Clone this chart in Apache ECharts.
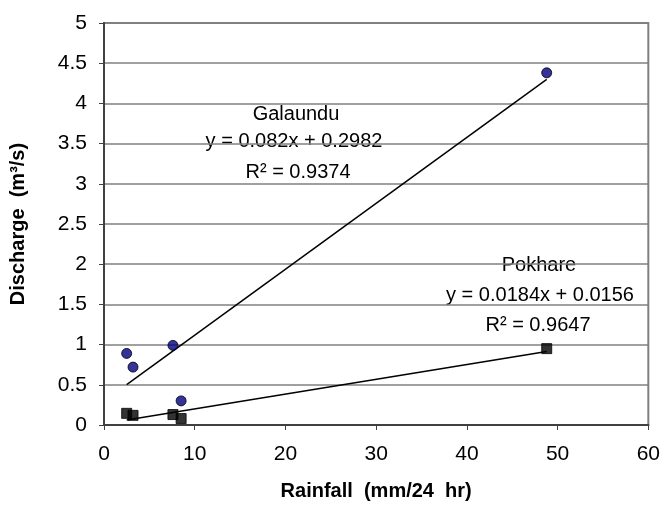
<!DOCTYPE html>
<html><head><meta charset="utf-8">
<script src="https://cdn.jsdelivr.net/npm/echarts@6/dist/echarts.min.js"></script>
<style>html,body{margin:0;padding:0;background:#fff;}#c{width:663px;height:506px;}</style>
</head><body><div id="c"></div>
<script>
var rainfall = [2.5, 3.2, 7.6, 8.5, 48.8];
var galaunduQ = [0.89, 0.72, 0.99, 0.30, 4.38];
var pokhareQ = [0.145, 0.12, 0.13, 0.08, 0.95];
var galaunduFit = [0.082, 0.2982];   // slope, intercept
var pokhareFit = [0.0184, 0.0156];
var galaunduText = ['Galaundu', 'y = 0.082x + 0.2982', 'R\u00b2 = 0.9374'];
var pokhareText = ['Pokhare', 'y = 0.0184x + 0.0156', 'R\u00b2 = 0.9647'];
var xTitle = 'Rainfall  (mm/24  hr)';
var yTitle = 'Discharge  (m\u00b3/s)';

function pts(xs, ys){ return xs.map(function(x,i){return [x, ys[i]];}); }
function fit(xs, f){
  var lo = Math.min.apply(null, xs), hi = Math.max.apply(null, xs);
  return [[lo, f[0]*lo + f[1]], [hi, f[0]*hi + f[1]]];
}
var FONT = '"Liberation Sans", Arial, sans-serif';
var chart = echarts.init(document.getElementById('c'), null, {renderer:'canvas'});
var g = [];
galaunduText.forEach(function(t,i){ g.push({type:'text', x:[296,294,298][i], y:[114,141,172][i], style:{text:t, align:'center', verticalAlign:'middle', font:'20px '+FONT, fill:'#000'}}); });
pokhareText.forEach(function(t,i){ g.push({type:'text', x:[539,540,538][i], y:[265,295,325][i], style:{text:t, align:'center', verticalAlign:'middle', font:'20px '+FONT, fill:'#000'}}); });

chart.setOption({
  animation:false,
  backgroundColor:'#fff',
  grid:{left:103.5, right:13, top:23, bottom:80, show:true, borderColor:'#808080', borderWidth:2, backgroundColor:'transparent'},
  xAxis:{type:'value', min:0, max:60, interval:10,
    name:xTitle, nameLocation:'middle', nameGap:56,
    nameTextStyle:{fontFamily:FONT, fontSize:20, fontWeight:'bold', color:'#000'},
    axisLine:{show:true, onZero:false, lineStyle:{color:'#404040', width:2}},
    axisTick:{show:true, inside:false, length:5, lineStyle:{color:'#404040', width:1}},
    axisLabel:{fontFamily:FONT, fontSize:21, color:'#000', margin:19},
    splitLine:{show:false}},
  yAxis:{type:'value', min:0, max:5, interval:0.5,
    name:yTitle, nameLocation:'middle', nameGap:76, nameRotate:90,
    nameTextStyle:{fontFamily:FONT, fontSize:20, fontWeight:'bold', color:'#000'},
    axisLine:{show:true, onZero:false, lineStyle:{color:'#404040', width:2}},
    axisTick:{show:true, inside:false, length:5, lineStyle:{color:'#404040', width:1}},
    axisLabel:{fontFamily:FONT, fontSize:21, color:'#000', margin:17},
    splitLine:{show:true, lineStyle:{color:'#808080', width:1.5}}},
  series:[
    {type:'line', data:fit(rainfall, galaunduFit), symbol:'none', lineStyle:{color:'#000', width:1.5}, z:3},
    {type:'line', data:fit(rainfall, pokhareFit), symbol:'none', lineStyle:{color:'#000', width:1.5}, z:3},
    {type:'scatter', data:pts(rainfall, galaunduQ), symbol:'circle', symbolSize:10,
      itemStyle:{color:'#000080', borderColor:'#000', borderWidth:1}, z:4},
    {type:'scatter', data:pts(rainfall, pokhareQ), symbol:'rect', symbolSize:10,
      itemStyle:{color:'#000', borderColor:'#000', borderWidth:1}, z:4}
  ],
  graphic:g
});
</script></body></html>
